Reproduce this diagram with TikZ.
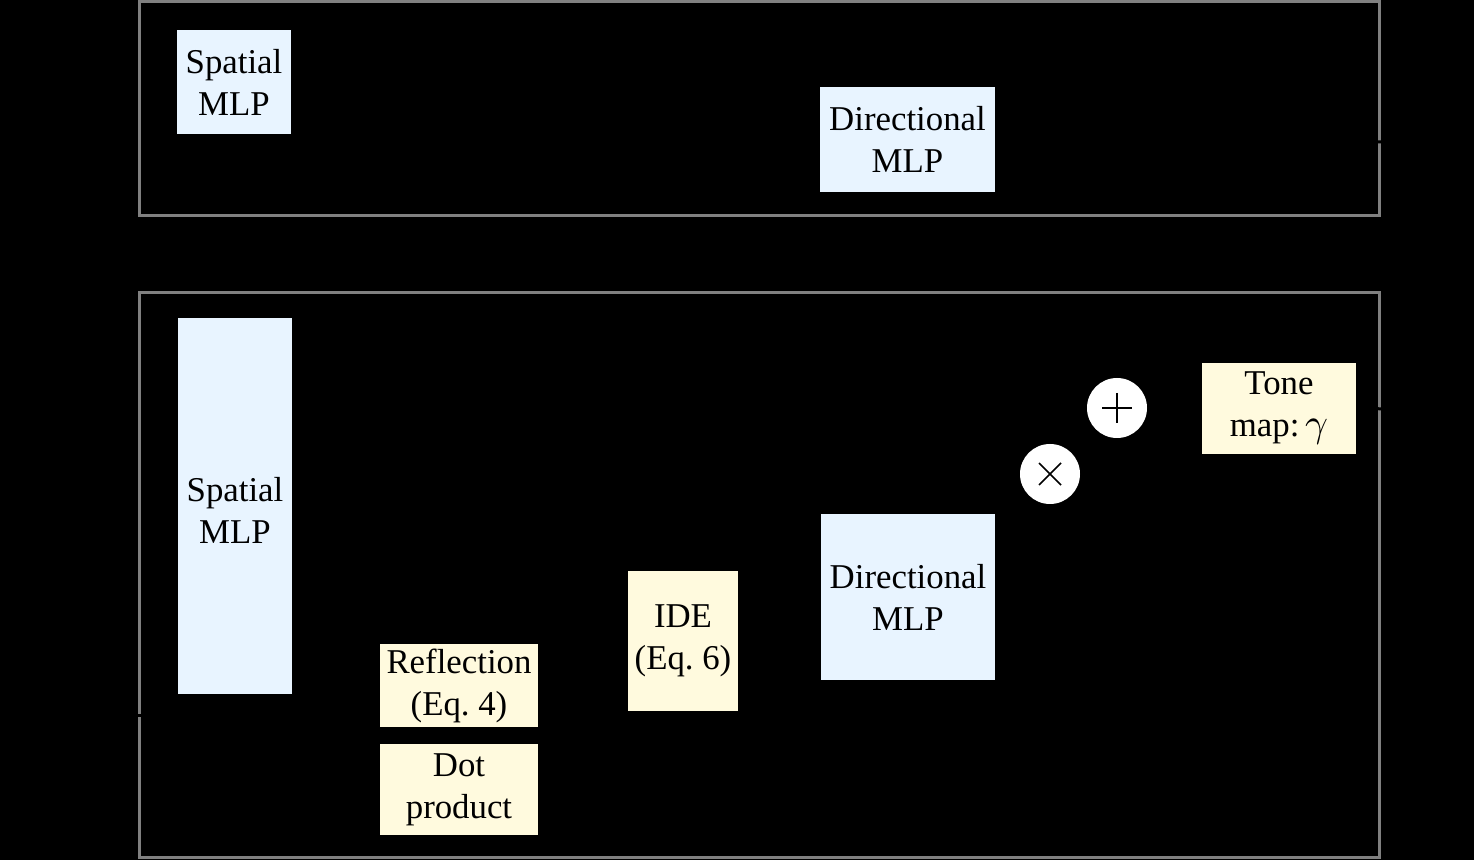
\documentclass[tikz,border=0pt]{standalone}
\usepackage{fontspec}
\setmainfont{Liberation Serif}
\usepackage{unicode-math}
\setmathfont{Latin Modern Math}
\begin{document}
\begin{tikzpicture}[x=0.5pt,y=-0.5pt,
  frame/.style={draw=black!50,line width=1.5pt},
  mlp/.style={fill=mlpblue,draw=none,inner sep=0pt,align=center,font=\fontsize{17.4}{21}\selectfont},
  op/.style={fill=opyellow,draw=none,inner sep=0pt,align=center,font=\fontsize{17.4}{21}\selectfont},
  combo/.style={circle,fill=white,draw=none,minimum size=30pt,inner sep=0pt},
  hidden/.style={draw=black,line width=1.5pt}]
\definecolor{mlpblue}{RGB}{232,244,255}
\definecolor{opyellow}{RGB}{255,250,222}
\fill[black] (0,0) rectangle (1474,860);
\useasboundingbox (0,0) rectangle (1474,860);
% group frames
\draw[frame] (139,2) rectangle (1379,216);
\draw[frame] (139,293) rectangle (1379,858);
% top row
\node[mlp,minimum width=57pt,minimum height=52pt] (sp1) at (234,82) {Spatial\\MLP};
\node[mlp,minimum width=87.5pt,minimum height=52.5pt] (dir1) at (907.5,139.5) {Directional\\MLP};
% bottom row
\node[mlp,minimum width=57pt,minimum height=188pt] (sp2) at (235,506) {};
\node[font=\fontsize{17.4}{21}\selectfont,align=center,inner sep=0pt] (sp2t) at (235,510) {Spatial\\MLP};
\node[op,minimum width=79pt,minimum height=41.5pt] (refl) at (459,685.5) {Reflection\\(Eq.~4)};
\node[op,minimum width=79pt,minimum height=45.5pt] (dotp) at (459,789.5) {Dot\\product};
\node[op,minimum width=55pt,minimum height=70pt] (ide) at (683,641) {IDE\\(Eq.~6)};
\node[mlp,minimum width=87pt,minimum height=83pt] (dir2) at (908,597) {Directional\\MLP};
\node[combo] (mul) at (1050,474) {};
\node[combo] (add) at (1117,408) {};
\node[op,minimum width=77pt,minimum height=45.5pt] (tone) at (1279,408.5) {Tone\\map:\,{\fontsize{20}{21}\selectfont$\gamma$}};
% operator glyphs
\draw[line width=0.8pt] ([shift={(-11,-11)}]mul.center) -- ([shift={(11,11)}]mul.center);
\draw[line width=0.8pt] ([shift={(-11,11)}]mul.center) -- ([shift={(11,-11)}]mul.center);
\draw[line width=0.8pt] ([shift={(-15,0)}]add.center) -- ([shift={(15,0)}]add.center);
\draw[line width=0.8pt] ([shift={(0,-15)}]add.center) -- ([shift={(0,15)}]add.center);
% connectors (black on black, visible only where they cross the frames)
\coordinate (out1) at (1400,142);
\coordinate (out2) at (1400,409);
\coordinate (in2) at (115,716);
\coordinate (in2b) at (160,716);
\draw[hidden] (dir1.east) -- (out1);
\draw[hidden] (tone.east) -- (out2);
\draw[hidden] (in2) -- (in2b);
\end{tikzpicture}
\end{document}
